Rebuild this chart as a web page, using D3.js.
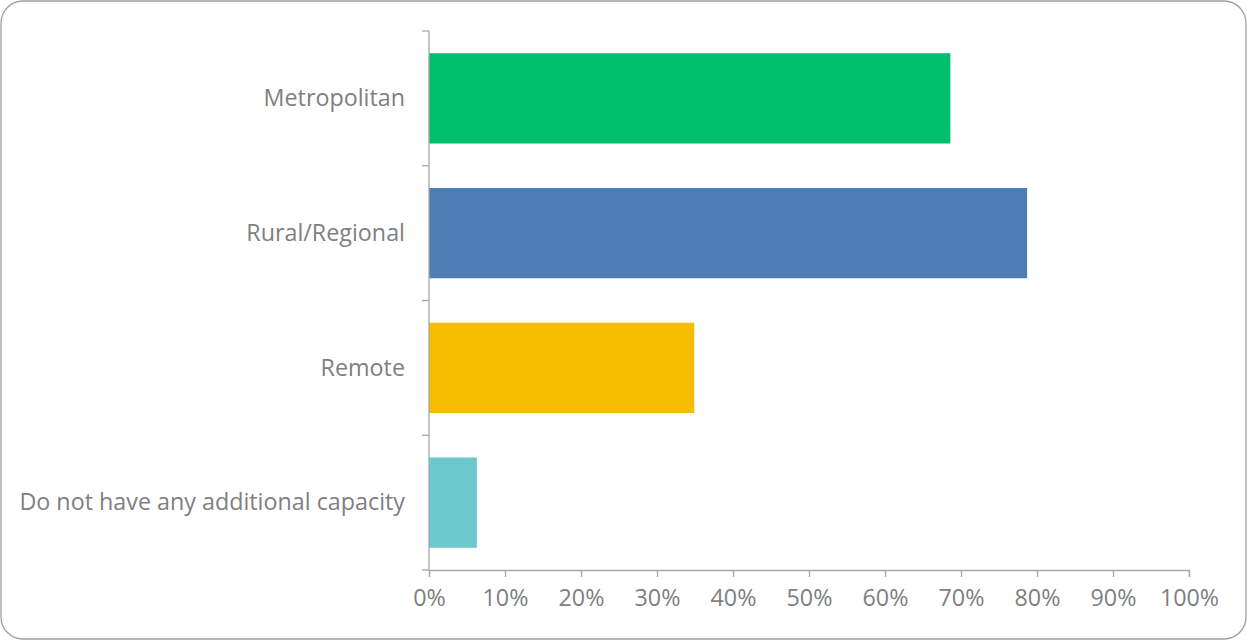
<!DOCTYPE html>
<html><head><meta charset="utf-8">
<script src="https://cdn.jsdelivr.net/npm/d3@7"></script>
<style>body{margin:0;background:#fff;}svg{display:block;}</style>
</head><body>
<svg id="chart" width="1247" height="640"></svg>
<script>
const categories = ["Metropolitan", "Rural/Regional", "Remote", "Do not have any additional capacity"];
const values = [0.686, 0.787, 0.349, 0.063];
const colors = ["#00BF6F", "#4E7DB5", "#F7BD00", "#6BC8CC"];
const xTicks = [0, 0.1, 0.2, 0.3, 0.4, 0.5, 0.6, 0.7, 0.8, 0.9, 1.0];

const svg = d3.select("#chart");
const W = 1247, H = 640;
const m = {left: 429, right: 58, top: 31, bottom: 70};
const font = "'Open Sans', sans-serif";
const fontSize = 23.3;
const textColor = "#7f7f7f";
const axisColor = "#a6a6a6";

svg.append("rect").attr("x", 1).attr("y", 1).attr("width", W - 2).attr("height", H - 2)
  .attr("rx", 22).attr("ry", 22).attr("fill", "#fff").attr("stroke", "#a0a0a0").attr("stroke-width", 1.3);

const x = d3.scaleLinear().domain([0, 1]).range([m.left, W - m.right]);
const y = d3.scaleBand().domain(categories).range([m.top, H - m.bottom]).paddingInner(0.33).paddingOuter(0.165);

svg.selectAll("rect.bar").data(categories).enter().append("rect")
  .attr("class", "bar")
  .attr("x", x(0)).attr("y", d => y(d))
  .attr("width", (d, i) => x(values[i]) - x(0))
  .attr("height", y.bandwidth())
  .attr("fill", (d, i) => colors[i]);

const yBot = H - m.bottom;
const ax = svg.append("g");
ax.append("line").attr("x1", x(0)).attr("x2", x(0)).attr("y1", m.top).attr("y2", yBot)
  .attr("stroke", axisColor).attr("stroke-width", 1.3);
const step = (yBot - m.top) / categories.length;
d3.range(categories.length + 1).forEach(i => {
  const yy = m.top + i * step;
  ax.append("line").attr("x1", x(0) - 7).attr("x2", x(0)).attr("y1", yy).attr("y2", yy)
    .attr("stroke", axisColor).attr("stroke-width", 1.3);
});
svg.selectAll("text.cat").data(categories).enter().append("text")
  .attr("class", "cat")
  .attr("x", 405).attr("y", d => y(d) + y.bandwidth() / 2)
  .attr("dy", "0.33em").attr("text-anchor", "end")
  .attr("font-family", font).attr("font-size", fontSize).attr("fill", textColor)
  .text(d => d);

const xAxis = d3.axisBottom(x).tickValues(xTicks).tickSize(7).tickFormat(d3.format(".0%"));
const gx = svg.append("g").attr("transform", `translate(0,${yBot})`).call(xAxis);
gx.select(".domain").attr("stroke", axisColor).attr("stroke-width", 1.3);
gx.selectAll(".tick line").attr("stroke", axisColor).attr("stroke-width", 1.3);
gx.selectAll(".tick text").attr("font-family", font).attr("font-size", fontSize).attr("fill", textColor).attr("y", 36).attr("dy", "0");
</script>
</body></html>
